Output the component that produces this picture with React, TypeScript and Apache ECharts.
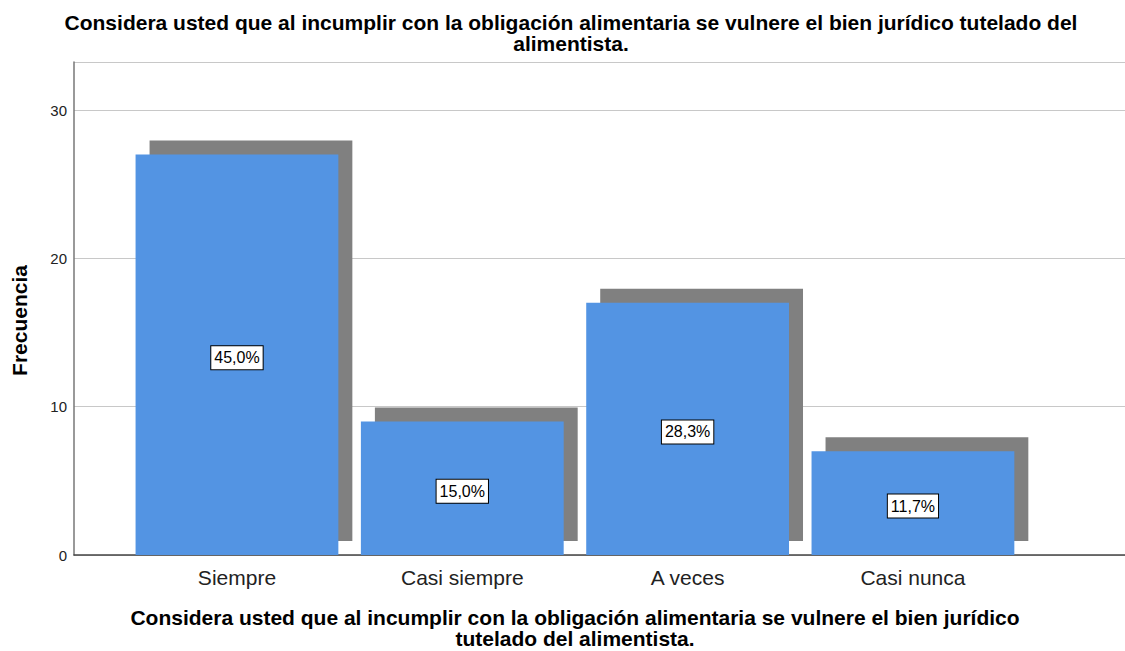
import React, { useEffect, useRef } from "react";
import * as echarts from "echarts";

const categories = ["Siempre", "Casi siempre", "A veces", "Casi nunca"];
const frequencies = [27, 9, 17, 7];
const percentLabels = ["45,0%", "15,0%", "28,3%", "11,7%"];
const yTicks = { min: 0, max: 33.24, interval: 10 };

const titleText =
  "Considera usted que al incumplir con la obligación alimentaria se vulnere el bien jurídico tutelado del\nalimentista.";
const xTitleText =
  "Considera usted que al incumplir con la obligación alimentaria se vulnere el bien jurídico\ntutelado del alimentista.";
const yTitleText = "Frecuencia";

const FONT = "'Liberation Sans', Arial, sans-serif";

export default function App() {
  const ref = useRef<HTMLDivElement>(null);
  useEffect(() => {
    document.body.style.margin = "0";
    const chart = echarts.init(ref.current!, null, { renderer: "svg" });
    const SHADOW = 14;
    chart.setOption({
      animation: false,
      backgroundColor: "#ffffff",
      textStyle: { fontFamily: FONT },
      title: [
        {
          text: titleText,
          left: 571,
          top: 12,
          padding: 0,
          textAlign: "center",
          textStyle: { fontFamily: FONT, fontSize: 21, fontWeight: "bold", color: "#000", lineHeight: 21 },
        },
        {
          text: xTitleText,
          left: 575,
          top: 607,
          padding: 0,
          textAlign: "center",
          textStyle: { fontFamily: FONT, fontSize: 21, fontWeight: "bold", color: "#000", lineHeight: 21 },
        },
      ],
      grid: [
        { left: 74, right: 0, top: 62, bottom: 96 },
        { left: 124.3, width: 901.3, top: 62, bottom: 96 },
      ],
      xAxis: [
        {
          gridIndex: 0,
          type: "value",
          min: 0,
          max: 1,
          axisLine: { show: true, onZero: false, lineStyle: { color: "#444", width: 1.5 } },
          axisTick: { show: false },
          axisLabel: { show: false },
          splitLine: { show: false },
        },
        {
          gridIndex: 1,
          type: "category",
          data: categories,
          axisLine: { show: false },
          axisTick: { show: false },
          axisLabel: { fontFamily: FONT, fontSize: 21, color: "#222", margin: 12 },
        },
      ],
      yAxis: [
        {
          gridIndex: 0,
          type: "value",
          min: yTicks.min,
          max: yTicks.max,
          interval: yTicks.interval,
          name: yTitleText,
          nameLocation: "middle",
          nameRotate: 90,
          nameGap: 44,
          nameTextStyle: {
            fontFamily: FONT,
            fontSize: 21,
            fontWeight: "bold",
            color: "#000",
            padding: [0, 24, 0, 0],
          },
          axisLine: { show: true, lineStyle: { color: "#777", width: 1.5 } },
          axisTick: { show: false },
          axisLabel: {
            fontFamily: FONT,
            fontSize: 15,
            color: "#222",
            margin: 7,
            showMaxLabel: false,
            formatter: (v: number) => (v % 10 === 0 ? String(v) : ""),
          },
          splitLine: { show: true, lineStyle: { color: "#c8c8c8", width: 1.2 } },
        },
        {
          gridIndex: 1,
          type: "value",
          min: yTicks.min,
          max: yTicks.max,
          interval: yTicks.interval,
          show: false,
          splitLine: { show: false },
        },
      ],
      series: [
        {
          type: "custom",
          xAxisIndex: 1,
          yAxisIndex: 1,
          data: frequencies.map((v, i) => [i, v]),
          renderItem: (params: any, api: any) => {
            const idx = api.value(0);
            const val = api.value(1);
            const top = api.coord([idx, val]);
            const base = api.coord([idx, 0]);
            const bandW = api.size([1, 0])[0];
            const w = bandW * 0.9;
            const x0 = top[0] - w / 2;
            const mid = api.coord([idx, val / 2]);
            return {
              type: "group",
              children: [
                {
                  type: "rect",
                  shape: { x: x0 + SHADOW, y: top[1] - SHADOW, width: w, height: base[1] - top[1] },
                  style: { fill: "#808080" },
                },
                {
                  type: "rect",
                  shape: { x: x0, y: top[1], width: w, height: base[1] - top[1] },
                  style: { fill: "#5394e3" },
                },
                {
                  type: "text",
                  x: mid[0],
                  y: mid[1] + 3,
                  style: {
                    text: percentLabels[params.dataIndex],
                    fontFamily: FONT,
                    fontSize: 16,
                    fill: "#000",
                    align: "center",
                    verticalAlign: "middle",
                    backgroundColor: "#fff",
                    borderColor: "#000",
                    borderWidth: 1,
                    padding: [4, 3, 3, 3],
                  },
                },
              ],
            };
          },
        },
      ],
    });
    return () => chart.dispose();
  }, []);
  return <div ref={ref} style={{ width: 1125, height: 651 }} />;
}
